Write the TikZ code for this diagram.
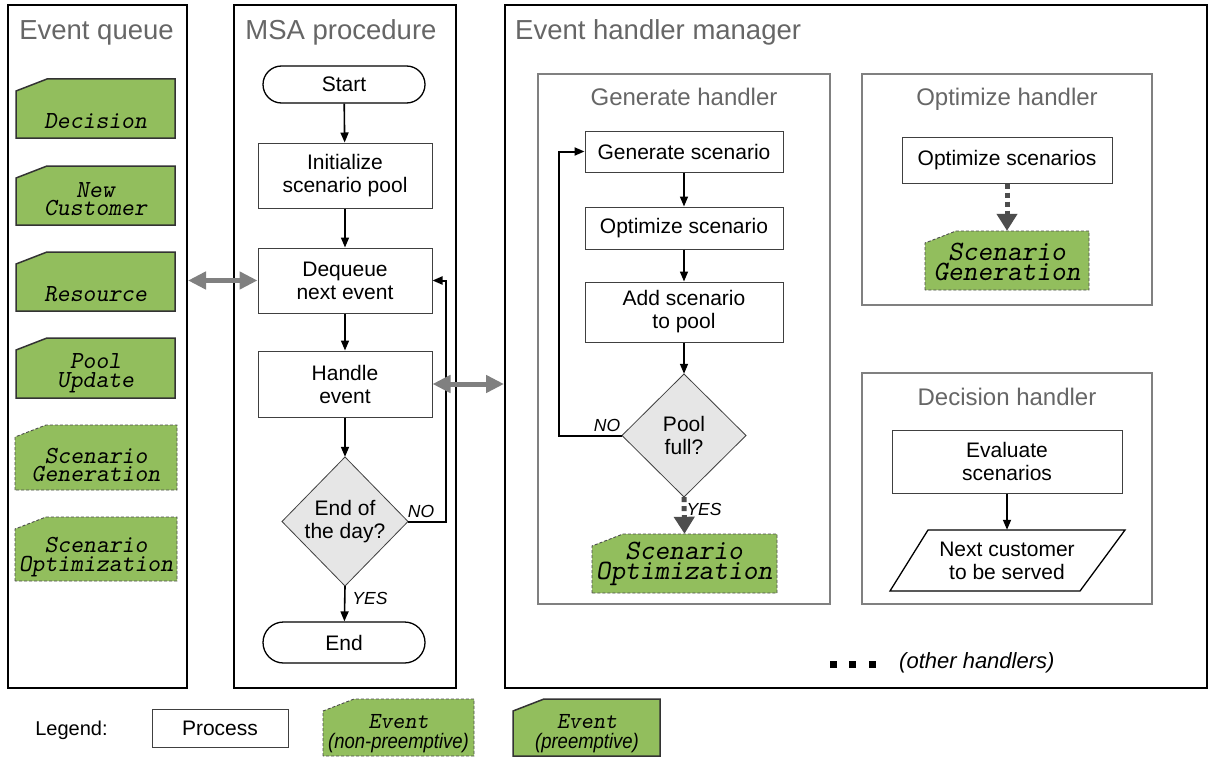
\documentclass[tikz,border=0pt]{standalone}
\usepackage{fontspec}
\setmainfont{Liberation Sans}
\usetikzlibrary{arrows.meta,shapes.geometric,shapes.misc}
\definecolor{evgreen}{RGB}{146,190,93}
\definecolor{titlegray}{RGB}{102,102,102}
\definecolor{hgray}{RGB}{128,128,128}
\definecolor{dgray}{RGB}{77,77,77}
\definecolor{dfill}{RGB}{230,230,230}
\newcommand{\fs}[2]{\fontsize{#1}{#2}\selectfont}
\newcommand{\evshape}[6]{%
  \path[#6] (#2,#5) -- (#2,#3+12) -- (#2+31,#3) -- (#4,#3) -- (#4,#5) -- cycle;
  \node[inner sep=0pt, minimum width={(#4-#2)*1pt}, minimum height={(#5-#3)*1pt}] (#1) at ({(#2+#4)/2},{(#3+#5)/2}) {};}
\tikzset{
  container/.style={draw=black, line width=2pt, inner sep=0pt},
  handler/.style={draw=hgray, line width=2pt, inner sep=0pt},
  ttl/.style={text=titlegray, font=\fs{27.5}{30}, inner sep=0pt, anchor=base},
  httl/.style={text=titlegray, font=\fs{24}{28}, inner sep=0pt, anchor=base},
  proc/.style={draw=black!75, line width=1pt, fill=white, inner sep=0pt, align=center, font=\fs{21}{23}},
  term/.style={proc, rounded rectangle, draw=black, line width=1.3pt},
  decshape/.style={draw=black!75, line width=0.8pt, fill=dfill},
  dtext/.style={inner sep=0pt, align=center, font=\fs{21}{23}},
  arr/.style={-{Triangle[length=10pt,width=8pt]}, line width=1.6pt},
  garr/.style={{Triangle[length=18pt,width=17pt]}-{Triangle[length=18pt,width=17pt]}, draw=hgray, line width=5pt},
  darr/.style={-{Triangle[length=17pt,width=20pt]}, draw=dgray, line width=5pt, dash pattern=on 5pt off 4pt},
  evsolid/.style={fill=evgreen, draw=black!80, line width=1.5pt},
  evdash/.style={fill=evgreen, draw=black!70, line width=0.9pt, dash pattern=on 3pt off 2pt},
  evtext/.style={font=\ttfamily\slshape\fs{24.5}{18.5}, align=center, inner sep=0pt},
  evbig/.style={font=\ttfamily\slshape\fs{28}{20.5}, align=center, inner sep=0pt},
  lbl/.style={font=\itshape\fs{17.5}{20}, inner sep=0pt}
}
\begin{document}
\begin{tikzpicture}[x=1pt,y=-1pt]
\useasboundingbox[fill=white] (0,0) rectangle (1209,757);

% containers
\node[container, minimum width=179pt, minimum height=683pt] (eq) at (97.5,346.5) {};
\node[container, minimum width=222pt, minimum height=683pt] (msa) at (345,346.5) {};
\node[container, minimum width=702pt, minimum height=683pt] (ehm) at (856,346.5) {};
\node[ttl] (eqt) at (96.5,40) {Event queue};
\node[ttl] (msat) at (341,40) {MSA procedure};
\node[ttl, anchor=base west] (ehmt) at (515,40) {Event handler manager};

% event queue
\evshape{qdec}{16}{79}{175}{138}{evsolid}
\node[evtext] (qdec-t) at (95.5,121) {Decision};
\evshape{qnew}{16}{166}{175}{225}{evsolid}
\node[evtext] (qnew-t) at (95.5,199) {New\\Customer};
\evshape{qres}{16}{252}{175}{311}{evsolid}
\node[evtext] (qres-t) at (95.5,294) {Resource};
\evshape{qpool}{16}{338}{175}{398}{evsolid}
\node[evtext] (qpool-t) at (95.5,373) {Pool\\Update};
\evshape{qsg}{15}{425}{177}{490}{evdash}
\node[evtext] (qsg-t) at (96,465) {Scenario\\Generation};
\evshape{qso}{15}{517}{177}{581}{evdash}
\node[evtext] (qso-t) at (96,557) {Scenario\\Optimization};

% MSA procedure
\node[term, minimum width=162pt, minimum height=37pt] (start) at (344,84.5) {Start};
\node[proc, minimum width=174pt, minimum height=65pt] (init) at (345,175.5) {Initialize\\scenario pool};
\node[proc, minimum width=174pt, minimum height=65pt] (deq) at (345,280.5) {Dequeue\\next event};
\node[proc, minimum width=174pt, minimum height=66pt] (he) at (345,384) {Handle\\event};
\path[decshape] (345,457) -- (408,521.5) -- (345,586) -- (282,521.5) -- cycle;
\node[dtext, minimum width=126pt, minimum height=129pt] (eod) at (345,521.5) {End of\\the day?};
\node[term, minimum width=162pt, minimum height=41pt] (endt) at (344,642.5) {End};
\coordinate (loopA) at (446,280.5);

\draw[arr] (start) -- (init);
\draw[arr] (init) -- (deq);
\draw[arr] (deq) -- (he);
\draw[arr] (he) -- (eod.north);
\draw[arr] (eod.south) -- (endt);
\draw[arr, line width=2pt] (eod.east) -| (loopA) -- (deq.east);
\node[lbl] (no1) at (421,511) {NO};
\node[lbl] (yes1) at (370,598) {YES};

% gray double arrows
\draw[garr] (deq.west -| eq.east) -- (deq.west);
\draw[garr] (he.east) -- (he.east -| ehm.west);

% Generate handler
\node[handler, minimum width=292pt, minimum height=530pt] (gh) at (684,339) {};
\node[httl] (ght) at (684,106) {Generate handler};
\node[proc, minimum width=198pt, minimum height=41pt] (gs) at (684,151.5) {Generate scenario};
\node[proc, minimum width=198pt, minimum height=42pt] (os) at (684,228) {Optimize scenario};
\node[proc, minimum width=198pt, minimum height=60pt] (asp) at (684,312) {Add scenario\\to pool};
\path[decshape] (684,374) -- (746,435.5) -- (684,497) -- (622,435.5) -- cycle;
\node[dtext, minimum width=124pt, minimum height=123pt] (pf) at (684,435.5) {Pool\\full?};
\evshape{gso}{592}{534}{777}{593}{evdash}
\node[evbig] (gso-t) at (684,564) {Scenario\\Optimization};
\coordinate (loopB) at (559,151.5);
\draw[arr] (gs) -- (os);
\draw[arr] (os) -- (asp);
\draw[arr] (asp) -- (pf.north);
\draw[arr, line width=2pt] (pf.west) -| (loopB) -- (gs.west);
\draw[darr] (pf.south) -- (gso.north);
\node[lbl] (no2) at (607,425.5) {NO};
\node[lbl] (yes2) at (704,509) {YES};

% Optimize handler
\node[handler, minimum width=290pt, minimum height=231pt] (oh) at (1007,189.5) {};
\node[httl] (oht) at (1007,106) {Optimize handler};
\node[proc, minimum width=210pt, minimum height=46pt] (oss) at (1007,160) {Optimize scenarios};
\evshape{osg}{925}{231}{1089}{290}{evdash}
\node[evbig] (osg-t) at (1007,262) {Scenario\\Generation};
\draw[darr] (oss) -- (osg.north);

% Decision handler
\node[handler, minimum width=290pt, minimum height=231pt] (dh) at (1007,488.5) {};
\node[httl] (dht) at (1007,405) {Decision handler};
\node[proc, minimum width=230pt, minimum height=63pt] (evs) at (1007,461.5) {Evaluate\\scenarios};
\path[draw=black, line width=1.3pt, fill=white] (928,530) -- (1125,530) -- (1080,591) -- (890,591) -- cycle;
\node[dtext, minimum width=197pt, minimum height=61pt] (nc) at (1007,560.5) {Next customer\\to be served};
\draw[arr] (evs) -- (nc.north);

% other handlers
\fill (829.5,660.5) rectangle ++(7,7);
\fill (849,660.5) rectangle ++(7,7);
\fill (868.5,660.5) rectangle ++(7,7);
\node[font=\itshape\fs{22}{24}, inner sep=0pt, anchor=west] (oth) at (899,663) {(other handlers)};

% legend
\node[font=\fs{20}{24}, inner sep=0pt] (leg) at (71.5,730) {Legend:};
\node[proc, minimum width=136pt, minimum height=38pt] (lproc) at (220,728) {Process};
\evshape{lnp}{323}{699}{474}{756}{evdash}
\node[font=\ttfamily\slshape\fs{23}{20}, inner sep=0pt] (lnp-a) at (398.5,722) {Event};
\node[font=\itshape\fs{21}{20}, inner sep=0pt] (lnp-b) at (398.5,743) {\scalebox{0.88}[1]{(non-preemptive)}};
\evshape{lpr}{513}{699}{660}{756}{evsolid}
\node[font=\ttfamily\slshape\fs{23}{20}, inner sep=0pt] (lpr-a) at (587,722) {Event};
\node[font=\itshape\fs{21}{20}, inner sep=0pt] (lpr-b) at (587,743) {\scalebox{0.88}[1]{(preemptive)}};
\end{tikzpicture}
\end{document}
